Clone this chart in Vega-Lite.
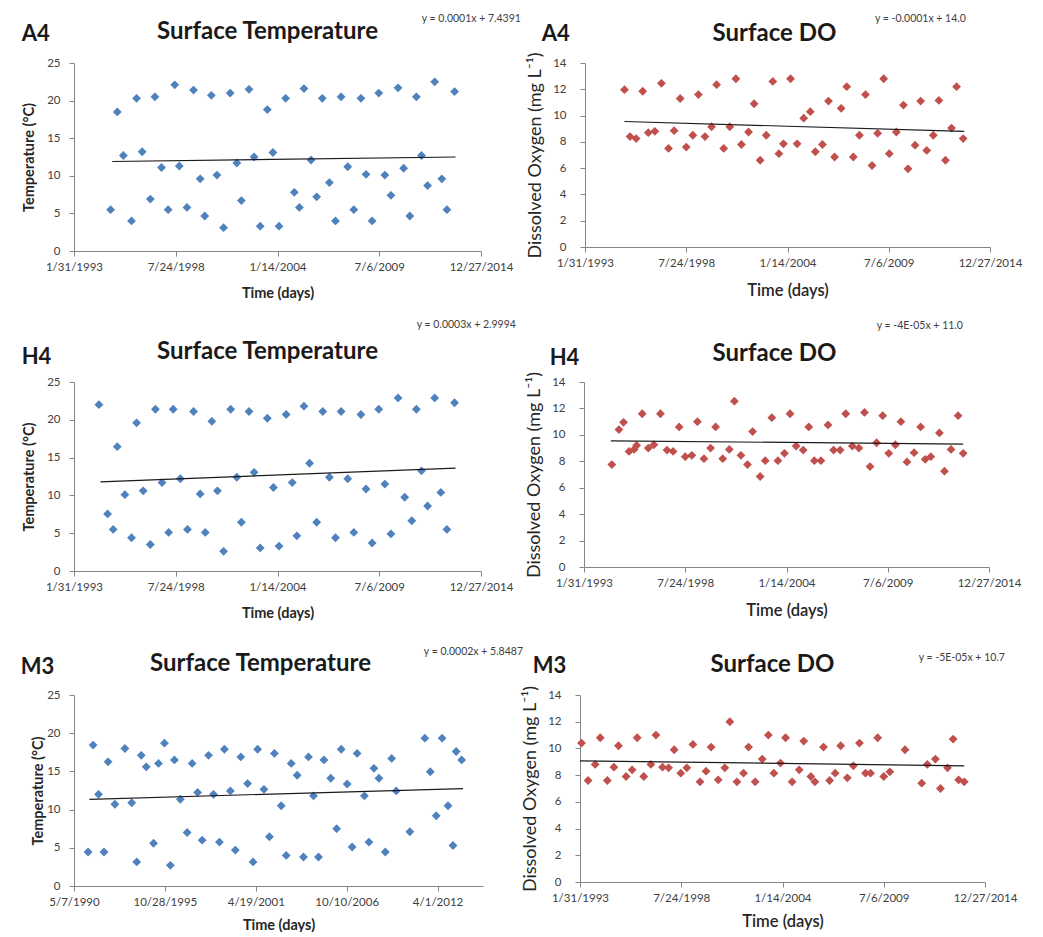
{
  "$schema": "https://vega.github.io/schema/vega-lite/v6.json",
  "background": "white",
  "padding": {"left": 20, "top": 13, "right": 5, "bottom": 0},
  "config": {
    "font": "Lato",
    "view": {"stroke": null},
    "axis": {"grid": false, "domainColor": "#868686", "tickColor": "#868686", "labelColor": "#404040", "labelFontSize": 11.5, "titleColor": "#262626", "tickSize": 5, "labelFlush": false, "labelOverlap": false, "labelFont": "Lato", "titleFont": "Lato"},
    "axisX": {"labelPadding": 5, "titlePadding": 14},
    "axisY": {"labelPadding": 9, "tickCount": 20},
    "title": {"color": "#1a1a1a", "font": "Lato"},
    "concat": {"spacing": 0}
  },
  "datasets": {
    "a4t": [
      {"serial": 34720, "value": 5.5}, {"serial": 34850, "value": 18.5}, {"serial": 34970, "value": 12.7}, {"serial": 35130, "value": 4.0},
      {"serial": 35230, "value": 20.3}, {"serial": 35340, "value": 13.2}, {"serial": 35500, "value": 6.9}, {"serial": 35590, "value": 20.5},
      {"serial": 35720, "value": 11.1}, {"serial": 35850, "value": 5.5}, {"serial": 35980, "value": 22.1}, {"serial": 36070, "value": 11.3},
      {"serial": 36220, "value": 5.8}, {"serial": 36350, "value": 21.4}, {"serial": 36480, "value": 9.6}, {"serial": 36570, "value": 4.65},
      {"serial": 36700, "value": 20.7}, {"serial": 36810, "value": 10.1}, {"serial": 36940, "value": 3.1}, {"serial": 37070, "value": 21.0},
      {"serial": 37200, "value": 11.7}, {"serial": 37290, "value": 6.7}, {"serial": 37440, "value": 21.5}, {"serial": 37540, "value": 12.5},
      {"serial": 37660, "value": 3.3}, {"serial": 37800, "value": 18.8}, {"serial": 37910, "value": 13.1}, {"serial": 38030, "value": 3.3},
      {"serial": 38160, "value": 20.3}, {"serial": 38330, "value": 7.8}, {"serial": 38430, "value": 5.8}, {"serial": 38520, "value": 21.6},
      {"serial": 38660, "value": 12.1}, {"serial": 38770, "value": 7.2}, {"serial": 38880, "value": 20.3}, {"serial": 39020, "value": 9.1},
      {"serial": 39140, "value": 4.0}, {"serial": 39250, "value": 20.5}, {"serial": 39380, "value": 11.2}, {"serial": 39500, "value": 5.5},
      {"serial": 39640, "value": 20.3}, {"serial": 39740, "value": 10.2}, {"serial": 39860, "value": 4.0}, {"serial": 39990, "value": 21.0},
      {"serial": 40110, "value": 10.1}, {"serial": 40230, "value": 7.4}, {"serial": 40370, "value": 21.7}, {"serial": 40480, "value": 11.0},
      {"serial": 40600, "value": 4.65}, {"serial": 40730, "value": 20.5}, {"serial": 40830, "value": 12.7}, {"serial": 40950, "value": 8.7},
      {"serial": 41090, "value": 22.5}, {"serial": 41230, "value": 9.6}, {"serial": 41330, "value": 5.5}, {"serial": 41480, "value": 21.2}
    ],
    "a4t_trend": [{"serial": 34750, "value": 11.9}, {"serial": 41500, "value": 12.5}],
    "a4d": [
      {"serial": 34780, "value": 11.97}, {"serial": 34890, "value": 8.4}, {"serial": 35010, "value": 8.25}, {"serial": 35140, "value": 11.85},
      {"serial": 35250, "value": 8.7}, {"serial": 35380, "value": 8.8}, {"serial": 35510, "value": 12.45}, {"serial": 35650, "value": 7.5},
      {"serial": 35760, "value": 8.85}, {"serial": 35880, "value": 11.3}, {"serial": 36000, "value": 7.6}, {"serial": 36130, "value": 8.5},
      {"serial": 36240, "value": 11.6}, {"serial": 36370, "value": 8.4}, {"serial": 36500, "value": 9.15}, {"serial": 36600, "value": 12.35},
      {"serial": 36740, "value": 7.5}, {"serial": 36860, "value": 9.15}, {"serial": 36980, "value": 12.8}, {"serial": 37090, "value": 7.8},
      {"serial": 37230, "value": 8.75}, {"serial": 37340, "value": 10.9}, {"serial": 37460, "value": 6.6}, {"serial": 37580, "value": 8.5},
      {"serial": 37710, "value": 12.6}, {"serial": 37830, "value": 7.1}, {"serial": 37920, "value": 7.85}, {"serial": 38060, "value": 12.8},
      {"serial": 38190, "value": 7.85}, {"serial": 38320, "value": 9.8}, {"serial": 38450, "value": 10.3}, {"serial": 38550, "value": 7.25},
      {"serial": 38690, "value": 7.8}, {"serial": 38810, "value": 11.1}, {"serial": 38930, "value": 6.85}, {"serial": 39060, "value": 10.55},
      {"serial": 39170, "value": 12.2}, {"serial": 39300, "value": 6.85}, {"serial": 39420, "value": 8.5}, {"serial": 39540, "value": 11.6},
      {"serial": 39670, "value": 6.2}, {"serial": 39780, "value": 8.65}, {"serial": 39900, "value": 12.8}, {"serial": 40010, "value": 7.1},
      {"serial": 40150, "value": 8.75}, {"serial": 40290, "value": 10.8}, {"serial": 40380, "value": 5.95}, {"serial": 40520, "value": 7.75},
      {"serial": 40630, "value": 11.1}, {"serial": 40750, "value": 7.35}, {"serial": 40880, "value": 8.5}, {"serial": 40990, "value": 11.15},
      {"serial": 41120, "value": 6.6}, {"serial": 41240, "value": 9.05}, {"serial": 41340, "value": 12.2}, {"serial": 41470, "value": 8.25}
    ],
    "a4d_trend": [{"serial": 34780, "value": 9.55}, {"serial": 41490, "value": 8.8}],
    "h4t": [
      {"serial": 34490, "value": 22.0}, {"serial": 34660, "value": 7.55}, {"serial": 34770, "value": 5.5}, {"serial": 34850, "value": 16.45},
      {"serial": 35000, "value": 10.1}, {"serial": 35130, "value": 4.4}, {"serial": 35230, "value": 19.6}, {"serial": 35360, "value": 10.6},
      {"serial": 35500, "value": 3.5}, {"serial": 35600, "value": 21.4}, {"serial": 35730, "value": 11.7}, {"serial": 35860, "value": 5.1},
      {"serial": 35950, "value": 21.4}, {"serial": 36090, "value": 12.2}, {"serial": 36230, "value": 5.5}, {"serial": 36350, "value": 21.1},
      {"serial": 36480, "value": 10.2}, {"serial": 36580, "value": 5.1}, {"serial": 36710, "value": 19.8}, {"serial": 36820, "value": 10.6},
      {"serial": 36940, "value": 2.6}, {"serial": 37080, "value": 21.4}, {"serial": 37200, "value": 12.4}, {"serial": 37290, "value": 6.45},
      {"serial": 37440, "value": 21.1}, {"serial": 37540, "value": 13.05}, {"serial": 37660, "value": 3.05}, {"serial": 37800, "value": 20.2},
      {"serial": 37920, "value": 11.05}, {"serial": 38030, "value": 3.3}, {"serial": 38170, "value": 20.7}, {"serial": 38290, "value": 11.7},
      {"serial": 38380, "value": 4.65}, {"serial": 38520, "value": 21.8}, {"serial": 38630, "value": 14.25}, {"serial": 38770, "value": 6.45},
      {"serial": 38890, "value": 21.1}, {"serial": 39020, "value": 12.4}, {"serial": 39140, "value": 4.4}, {"serial": 39250, "value": 21.1},
      {"serial": 39380, "value": 12.2}, {"serial": 39500, "value": 5.1}, {"serial": 39640, "value": 20.7}, {"serial": 39740, "value": 10.85},
      {"serial": 39860, "value": 3.7}, {"serial": 39990, "value": 21.4}, {"serial": 40110, "value": 11.5}, {"serial": 40230, "value": 4.9},
      {"serial": 40370, "value": 22.9}, {"serial": 40500, "value": 9.75}, {"serial": 40640, "value": 6.65}, {"serial": 40730, "value": 21.4},
      {"serial": 40830, "value": 13.25}, {"serial": 40950, "value": 8.6}, {"serial": 41090, "value": 22.9}, {"serial": 41210, "value": 10.4},
      {"serial": 41330, "value": 5.5}, {"serial": 41480, "value": 22.25}
    ],
    "h4t_trend": [{"serial": 34520, "value": 11.8}, {"serial": 41500, "value": 13.6}],
    "h4d": [
      {"serial": 34550, "value": 7.75}, {"serial": 34690, "value": 10.4}, {"serial": 34780, "value": 10.95}, {"serial": 34890, "value": 8.75},
      {"serial": 34990, "value": 8.9}, {"serial": 35040, "value": 9.2}, {"serial": 35150, "value": 11.6}, {"serial": 35270, "value": 9.0},
      {"serial": 35380, "value": 9.25}, {"serial": 35510, "value": 11.6}, {"serial": 35640, "value": 8.85}, {"serial": 35760, "value": 8.75},
      {"serial": 35880, "value": 10.6}, {"serial": 36000, "value": 8.35}, {"serial": 36130, "value": 8.45}, {"serial": 36240, "value": 11.0},
      {"serial": 36370, "value": 8.2}, {"serial": 36500, "value": 9.0}, {"serial": 36600, "value": 10.6}, {"serial": 36740, "value": 8.2},
      {"serial": 36870, "value": 8.9}, {"serial": 36970, "value": 12.55}, {"serial": 37100, "value": 8.45}, {"serial": 37230, "value": 7.75},
      {"serial": 37330, "value": 10.25}, {"serial": 37480, "value": 6.85}, {"serial": 37580, "value": 8.05}, {"serial": 37710, "value": 11.3},
      {"serial": 37830, "value": 8.05}, {"serial": 37960, "value": 8.6}, {"serial": 38070, "value": 11.6}, {"serial": 38190, "value": 9.15},
      {"serial": 38330, "value": 8.85}, {"serial": 38440, "value": 10.6}, {"serial": 38550, "value": 8.05}, {"serial": 38680, "value": 8.05},
      {"serial": 38820, "value": 10.75}, {"serial": 38930, "value": 8.85}, {"serial": 39060, "value": 8.85}, {"serial": 39170, "value": 11.6},
      {"serial": 39300, "value": 9.15}, {"serial": 39430, "value": 9.0}, {"serial": 39540, "value": 11.7}, {"serial": 39650, "value": 7.6},
      {"serial": 39780, "value": 9.4}, {"serial": 39900, "value": 11.45}, {"serial": 40020, "value": 8.6}, {"serial": 40150, "value": 9.25},
      {"serial": 40260, "value": 11.0}, {"serial": 40380, "value": 7.95}, {"serial": 40520, "value": 8.65}, {"serial": 40650, "value": 10.6},
      {"serial": 40740, "value": 8.15}, {"serial": 40850, "value": 8.35}, {"serial": 41020, "value": 10.15}, {"serial": 41120, "value": 7.25},
      {"serial": 41250, "value": 8.9}, {"serial": 41390, "value": 11.45}, {"serial": 41490, "value": 8.6}
    ],
    "h4d_trend": [{"serial": 34530, "value": 9.55}, {"serial": 41490, "value": 9.3}],
    "m3t": [
      {"serial": 33310, "value": 4.45}, {"serial": 33420, "value": 18.45}, {"serial": 33540, "value": 12.0}, {"serial": 33660, "value": 4.45},
      {"serial": 33750, "value": 16.25}, {"serial": 33900, "value": 10.7}, {"serial": 34120, "value": 18.0}, {"serial": 34270, "value": 10.9},
      {"serial": 34380, "value": 3.15}, {"serial": 34480, "value": 17.1}, {"serial": 34590, "value": 15.6}, {"serial": 34750, "value": 5.6},
      {"serial": 34860, "value": 16.05}, {"serial": 34990, "value": 18.7}, {"serial": 35120, "value": 2.7}, {"serial": 35210, "value": 16.5},
      {"serial": 35340, "value": 11.35}, {"serial": 35490, "value": 7.0}, {"serial": 35600, "value": 16.05}, {"serial": 35720, "value": 12.25},
      {"serial": 35820, "value": 6.0}, {"serial": 35960, "value": 17.1}, {"serial": 36070, "value": 12.0}, {"serial": 36200, "value": 5.75},
      {"serial": 36310, "value": 17.9}, {"serial": 36440, "value": 12.45}, {"serial": 36550, "value": 4.7}, {"serial": 36670, "value": 16.9},
      {"serial": 36820, "value": 13.4}, {"serial": 36940, "value": 3.15}, {"serial": 37040, "value": 17.9}, {"serial": 37180, "value": 12.65},
      {"serial": 37300, "value": 6.45}, {"serial": 37410, "value": 17.35}, {"serial": 37560, "value": 10.5}, {"serial": 37670, "value": 4.0},
      {"serial": 37780, "value": 16.05}, {"serial": 37910, "value": 14.5}, {"serial": 38050, "value": 3.8}, {"serial": 38160, "value": 16.9},
      {"serial": 38270, "value": 11.8}, {"serial": 38380, "value": 3.8}, {"serial": 38500, "value": 16.5}, {"serial": 38650, "value": 14.1},
      {"serial": 38780, "value": 7.5}, {"serial": 38880, "value": 17.9}, {"serial": 39010, "value": 13.35}, {"serial": 39120, "value": 5.1},
      {"serial": 39230, "value": 17.35}, {"serial": 39390, "value": 11.8}, {"serial": 39490, "value": 5.75}, {"serial": 39600, "value": 15.4},
      {"serial": 39710, "value": 14.1}, {"serial": 39850, "value": 4.45}, {"serial": 39990, "value": 16.7}, {"serial": 40090, "value": 12.45},
      {"serial": 40390, "value": 7.1}, {"serial": 40720, "value": 19.35}, {"serial": 40840, "value": 14.95}, {"serial": 40970, "value": 9.2},
      {"serial": 41100, "value": 19.35}, {"serial": 41230, "value": 10.5}, {"serial": 41340, "value": 5.3}, {"serial": 41410, "value": 17.6},
      {"serial": 41530, "value": 16.5}
    ],
    "m3t_trend": [{"serial": 33340, "value": 11.35}, {"serial": 41560, "value": 12.75}],
    "m3d": [
      {"serial": 34030, "value": 10.4}, {"serial": 34160, "value": 7.6}, {"serial": 34300, "value": 8.8}, {"serial": 34400, "value": 10.8},
      {"serial": 34540, "value": 7.6}, {"serial": 34670, "value": 8.6}, {"serial": 34760, "value": 10.2}, {"serial": 34910, "value": 7.9},
      {"serial": 35030, "value": 8.4}, {"serial": 35130, "value": 10.8}, {"serial": 35260, "value": 7.9}, {"serial": 35400, "value": 8.8},
      {"serial": 35500, "value": 11.0}, {"serial": 35630, "value": 8.6}, {"serial": 35750, "value": 8.55}, {"serial": 35860, "value": 9.9},
      {"serial": 35990, "value": 8.15}, {"serial": 36110, "value": 8.55}, {"serial": 36230, "value": 10.3}, {"serial": 36370, "value": 7.5},
      {"serial": 36490, "value": 8.3}, {"serial": 36590, "value": 10.1}, {"serial": 36730, "value": 7.65}, {"serial": 36860, "value": 8.55},
      {"serial": 36960, "value": 12.0}, {"serial": 37100, "value": 7.5}, {"serial": 37230, "value": 8.15}, {"serial": 37330, "value": 10.1},
      {"serial": 37460, "value": 7.5}, {"serial": 37600, "value": 9.2}, {"serial": 37720, "value": 11.0}, {"serial": 37830, "value": 8.15},
      {"serial": 37960, "value": 8.9}, {"serial": 38060, "value": 10.8}, {"serial": 38190, "value": 7.5}, {"serial": 38330, "value": 8.4},
      {"serial": 38420, "value": 10.55}, {"serial": 38560, "value": 7.9}, {"serial": 38640, "value": 7.5}, {"serial": 38810, "value": 10.1},
      {"serial": 38930, "value": 7.6}, {"serial": 39040, "value": 8.15}, {"serial": 39150, "value": 10.2}, {"serial": 39280, "value": 7.8},
      {"serial": 39400, "value": 8.7}, {"serial": 39520, "value": 10.4}, {"serial": 39640, "value": 8.15}, {"serial": 39740, "value": 8.15},
      {"serial": 39880, "value": 10.8}, {"serial": 40000, "value": 7.9}, {"serial": 40120, "value": 8.25}, {"serial": 40420, "value": 9.9},
      {"serial": 40750, "value": 7.4}, {"serial": 40860, "value": 8.8}, {"serial": 41020, "value": 9.2}, {"serial": 41120, "value": 7.0},
      {"serial": 41260, "value": 8.55}, {"serial": 41370, "value": 10.7}, {"serial": 41480, "value": 7.65}, {"serial": 41590, "value": 7.5}
    ],
    "m3d_trend": [{"serial": 34000, "value": 9.07}, {"serial": 41590, "value": 8.7}]
  },
  "vconcat": [
    {
      "vconcat": [
        {
          "hconcat": [
            {
              "title": {"text": "y = 0.0001x + 7.4391", "anchor": "end", "frame": "bounds", "fontSize": 10.5, "fontWeight": "normal", "color": "#404040", "offset": -4.5, "dx": 8},
              "vconcat": [{
                "title": {"text": "A4", "anchor": "start", "frame": "bounds", "fontSize": 22, "fontWeight": "bold", "offset": -26},
                "vconcat": [{
                  "title": {"text": "Surface Temperature", "anchor": "middle", "fontSize": 24, "fontWeight": "bold", "offset": 13, "dx": -10},
                  "width": 407, "height": 188,
                  "layer": [
                    {"data": {"name": "a4t"}, "mark": {"type": "point", "shape": "diamond", "filled": true, "size": 78, "color": "#4F81BD", "opacity": 1},
                     "encoding": {
                       "x": {"field": "serial", "type": "quantitative", "scale": {"domain": [34000, 42000], "nice": false, "zero": false},
                             "axis": {"title": "Time (days)", "values": [34000, 36000, 38000, 40000, 42000], "labelExpr": "utcFormat((datum.value - 25569) * 86400000, '%-m/%-d/%Y')", "titleFontSize": 14.5, "titleFontWeight": "bold"}},
                       "y": {"field": "value", "type": "quantitative", "scale": {"domain": [0, 25], "nice": false},
                             "axis": {"title": "Temperature (°C)", "values": [0, 5, 10, 15, 20, 25], "format": "d", "tickCount": 20, "titleFontSize": 14.5, "titleFontWeight": "bold", "titlePadding": 10}}
                     }},
                    {"data": {"name": "a4t_trend"}, "mark": {"type": "line", "color": "#1a1a1a", "strokeWidth": 1.2},
                     "encoding": {"x": {"field": "serial", "type": "quantitative"}, "y": {"field": "value", "type": "quantitative"}}}
                  ]
                }]
              }]
            },
            {
              "title": {"text": "y = -0.0001x + 14.0", "anchor": "end", "frame": "bounds", "fontSize": 10.5, "fontWeight": "normal", "color": "#404040", "offset": -2.5, "dx": -56},
              "vconcat": [{
                "title": {"text": "A4", "anchor": "start", "frame": "bounds", "fontSize": 22, "fontWeight": "bold", "offset": -24, "dx": 15},
                "vconcat": [{
                  "title": {"text": "Surface DO", "anchor": "middle", "fontSize": 24, "fontWeight": "bold", "offset": 6, "dx": -13},
                  "width": 405, "height": 184,
                  "layer": [
                    {"data": {"name": "a4d"}, "mark": {"type": "point", "shape": "diamond", "filled": true, "size": 78, "color": "#C0504D", "opacity": 1},
                     "encoding": {
                       "x": {"field": "serial", "type": "quantitative", "scale": {"domain": [34000, 42000], "nice": false, "zero": false},
                             "axis": {"title": "Time (days)", "values": [34000, 36000, 38000, 40000, 42000], "labelExpr": "utcFormat((datum.value - 25569) * 86400000, '%-m/%-d/%Y')", "titleFontSize": 16.5, "titleFontWeight": 600}},
                       "y": {"field": "value", "type": "quantitative", "scale": {"domain": [0, 14], "nice": false},
                             "axis": {"title": "Dissolved Oxygen (mg L⁻¹)", "values": [0, 2, 4, 6, 8, 10, 12, 14], "format": "d", "tickCount": 20, "labelPadding": 14, "titleFontSize": 18, "titleFontWeight": "normal", "titlePadding": 8}}
                     }},
                    {"data": {"name": "a4d_trend"}, "mark": {"type": "line", "color": "#1a1a1a", "strokeWidth": 1.2},
                     "encoding": {"x": {"field": "serial", "type": "quantitative"}, "y": {"field": "value", "type": "quantitative"}}}
                  ]
                }]
              }]
            }
          ],
          "spacing": 5
        },
        {
          "hconcat": [
            {
              "title": {"text": "y = 0.0003x + 2.9994", "anchor": "end", "frame": "bounds", "fontSize": 10.5, "fontWeight": "normal", "color": "#404040", "offset": 10, "dx": 3},
              "vconcat": [{
                "title": {"text": "H4", "anchor": "start", "frame": "bounds", "fontSize": 22, "fontWeight": "bold", "offset": -29},
                "vconcat": [{
                  "title": {"text": "Surface Temperature", "anchor": "middle", "fontSize": 24, "fontWeight": "bold", "offset": 12, "dx": -10},
                  "width": 407, "height": 189,
                  "layer": [
                    {"data": {"name": "h4t"}, "mark": {"type": "point", "shape": "diamond", "filled": true, "size": 78, "color": "#4F81BD", "opacity": 1},
                     "encoding": {
                       "x": {"field": "serial", "type": "quantitative", "scale": {"domain": [34000, 42000], "nice": false, "zero": false},
                             "axis": {"title": "Time (days)", "values": [34000, 36000, 38000, 40000, 42000], "labelExpr": "utcFormat((datum.value - 25569) * 86400000, '%-m/%-d/%Y')", "titleFontSize": 14.5, "titleFontWeight": "bold"}},
                       "y": {"field": "value", "type": "quantitative", "scale": {"domain": [0, 25], "nice": false},
                             "axis": {"title": "Temperature (°C)", "values": [0, 5, 10, 15, 20, 25], "format": "d", "tickCount": 20, "titleFontSize": 14.5, "titleFontWeight": "bold", "titlePadding": 10}}
                     }},
                    {"data": {"name": "h4t_trend"}, "mark": {"type": "line", "color": "#1a1a1a", "strokeWidth": 1.2},
                     "encoding": {"x": {"field": "serial", "type": "quantitative"}, "y": {"field": "value", "type": "quantitative"}}}
                  ]
                }]
              }]
            },
            {
              "title": {"text": "y = -4E-05x + 11.0", "anchor": "end", "frame": "bounds", "fontSize": 10.5, "fontWeight": "normal", "color": "#404040", "offset": 11, "dx": -58},
              "vconcat": [{
                "title": {"text": "H4", "anchor": "start", "frame": "bounds", "fontSize": 22, "fontWeight": "bold", "offset": -28, "dx": 24},
                "vconcat": [{
                  "title": {"text": "Surface DO", "anchor": "middle", "fontSize": 24, "fontWeight": "bold", "offset": 5, "dx": -12},
                  "width": 405, "height": 185,
                  "layer": [
                    {"data": {"name": "h4d"}, "mark": {"type": "point", "shape": "diamond", "filled": true, "size": 78, "color": "#C0504D", "opacity": 1},
                     "encoding": {
                       "x": {"field": "serial", "type": "quantitative", "scale": {"domain": [34000, 42000], "nice": false, "zero": false},
                             "axis": {"title": "Time (days)", "values": [34000, 36000, 38000, 40000, 42000], "labelExpr": "utcFormat((datum.value - 25569) * 86400000, '%-m/%-d/%Y')", "titleFontSize": 16.5, "titleFontWeight": 600}},
                       "y": {"field": "value", "type": "quantitative", "scale": {"domain": [0, 14], "nice": false},
                             "axis": {"title": "Dissolved Oxygen (mg L⁻¹)", "values": [0, 2, 4, 6, 8, 10, 12, 14], "format": "d", "tickCount": 20, "labelPadding": 14, "titleFontSize": 18, "titleFontWeight": "normal", "titlePadding": 8}}
                     }},
                    {"data": {"name": "h4d_trend"}, "mark": {"type": "line", "color": "#1a1a1a", "strokeWidth": 1.2},
                     "encoding": {"x": {"field": "serial", "type": "quantitative"}, "y": {"field": "value", "type": "quantitative"}}}
                  ]
                }]
              }]
            }
          ],
          "spacing": 9
        }
      ],
      "spacing": 19
    },
    {
      "hconcat": [
        {
          "title": {"text": "y = 0.0002x + 5.8487", "anchor": "end", "frame": "bounds", "fontSize": 10.5, "fontWeight": "normal", "color": "#404040", "offset": -5, "dx": 40},
          "vconcat": [{
            "title": {"text": "M3", "anchor": "start", "frame": "bounds", "fontSize": 22, "fontWeight": "bold", "offset": -27, "dx": -10},
            "vconcat": [{
              "title": {"text": "Surface Temperature", "anchor": "middle", "fontSize": 24, "fontWeight": "bold", "offset": 13, "dx": -18},
              "width": 409, "height": 191,
              "layer": [
                {"data": {"name": "m3t"}, "mark": {"type": "point", "shape": "diamond", "filled": true, "size": 78, "color": "#4F81BD", "opacity": 1},
                 "encoding": {
                   "x": {"field": "serial", "type": "quantitative", "scale": {"domain": [33000, 42000], "nice": false, "zero": false},
                         "axis": {"title": "Time (days)", "values": [33000, 35000, 37000, 39000, 41000], "labelExpr": "utcFormat((datum.value - 25569) * 86400000, '%-m/%-d/%Y')", "titleFontSize": 14.5, "titleFontWeight": "bold", "titlePadding": 11}},
                   "y": {"field": "value", "type": "quantitative", "scale": {"domain": [0, 25], "nice": false},
                         "axis": {"title": "Temperature (°C)", "values": [0, 5, 10, 15, 20, 25], "format": "d", "tickCount": 20, "titleFontSize": 14.5, "titleFontWeight": "bold", "titlePadding": 1}}
                 }},
                {"data": {"name": "m3t_trend"}, "mark": {"type": "line", "color": "#1a1a1a", "strokeWidth": 1.2},
                 "encoding": {"x": {"field": "serial", "type": "quantitative"}, "y": {"field": "value", "type": "quantitative"}}}
              ]
            }]
          }]
        },
        {
          "title": {"text": "y = -5E-05x + 10.7", "anchor": "end", "frame": "bounds", "fontSize": 10.5, "fontWeight": "normal", "color": "#404040", "offset": -10, "dx": -12},
          "vconcat": [{
            "title": {"text": "M3", "anchor": "start", "frame": "bounds", "fontSize": 22, "fontWeight": "bold", "offset": -25, "dx": 11},
            "vconcat": [{
              "title": {"text": "Surface DO", "anchor": "middle", "fontSize": 24, "fontWeight": "bold", "offset": 8, "dx": -10},
              "width": 405, "height": 187,
              "layer": [
                {"data": {"name": "m3d"}, "mark": {"type": "point", "shape": "diamond", "filled": true, "size": 78, "color": "#C0504D", "opacity": 1},
                 "encoding": {
                   "x": {"field": "serial", "type": "quantitative", "scale": {"domain": [34000, 42000], "nice": false, "zero": false},
                         "axis": {"title": "Time (days)", "values": [34000, 36000, 38000, 40000, 42000], "labelExpr": "utcFormat((datum.value - 25569) * 86400000, '%-m/%-d/%Y')", "titleFontSize": 16.5, "titleFontWeight": 600, "titlePadding": 10}},
                   "y": {"field": "value", "type": "quantitative", "scale": {"domain": [0, 14], "nice": false},
                         "axis": {"title": "Dissolved Oxygen (mg L⁻¹)", "values": [0, 2, 4, 6, 8, 10, 12, 14], "format": "d", "tickCount": 20, "labelPadding": 14, "titleFontSize": 18, "titleFontWeight": "normal", "titlePadding": 8}}
                 }},
                {"data": {"name": "m3d_trend"}, "mark": {"type": "line", "color": "#1a1a1a", "strokeWidth": 1.2},
                 "encoding": {"x": {"field": "serial", "type": "quantitative"}, "y": {"field": "value", "type": "quantitative"}}}
              ]
            }]
          }]
        }
      ],
      "spacing": -2
    }
  ],
  "spacing": 26
}
